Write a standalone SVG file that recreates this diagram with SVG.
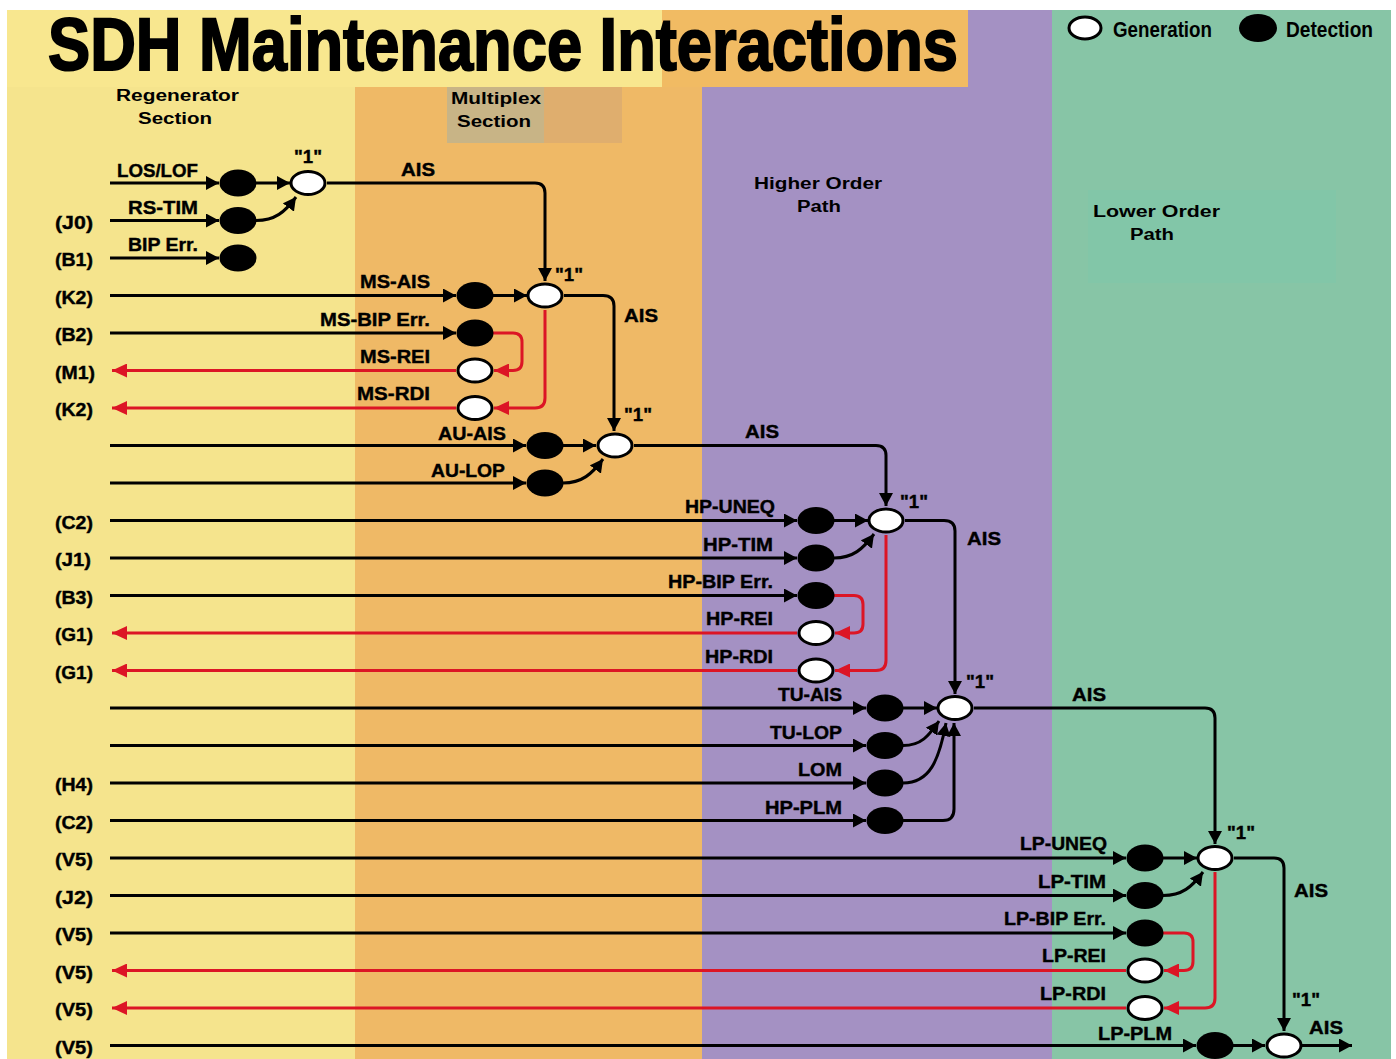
<svg xmlns="http://www.w3.org/2000/svg" width="1396" height="1059" viewBox="0 0 1396 1059">
<style>
.t{font-family:"Liberation Sans",Arial,sans-serif;font-weight:bold;fill:#000}
.l{font-size:19px;stroke:#000;stroke-width:0.4}
.s{font-size:16px}
.k{fill:none;stroke:#000;stroke-width:3}
.r{fill:none;stroke:#dc1525;stroke-width:3}
.det{fill:#000}
.gen{fill:#fff;stroke:#000;stroke-width:3}
</style>
<defs>
<marker id="ab" markerUnits="userSpaceOnUse" markerWidth="14" markerHeight="14" refX="13" refY="7" orient="auto"><path d="M0,0 L13,7 L0,14 z" fill="#000"/></marker>
<marker id="ar" markerUnits="userSpaceOnUse" markerWidth="16" markerHeight="14" refX="15" refY="7" orient="auto"><path d="M0,0 L15,7 L0,14 z" fill="#dc1525"/></marker>
</defs>
<g id="background">
<rect x="0" y="0" width="1396" height="1059" fill="#fff"/>
<rect x="7" y="10" width="348" height="1049" fill="#f5e48d"/>
<rect x="355" y="10" width="347" height="1049" fill="#efb966"/>
<rect x="702" y="10" width="350" height="1049" fill="#a491c3"/>
<rect x="1052" y="10" width="339" height="1049" fill="#87c5a6"/>
<rect x="7" y="10" width="655" height="77" fill="#f8e78f"/>
<rect x="662" y="10" width="306" height="77" fill="#f1bb63"/>
<rect x="447" y="87" width="97" height="56" fill="#c8b486"/>
<rect x="544" y="87" width="78" height="56" fill="#dfae6e"/>
<rect x="1088" y="190" width="248" height="93" fill="#82c6a8"/>
</g>
<g id="title"><text class="t" x="48" y="70" font-size="74" stroke="#000" stroke-width="2" textLength="910" lengthAdjust="spacingAndGlyphs">SDH Maintenance Interactions</text></g>
<g id="legend">
<ellipse class="gen" cx="1085" cy="28" rx="16" ry="11"/>
<text class="t" x="1113" y="37" font-size="22" textLength="99" lengthAdjust="spacingAndGlyphs">Generation</text>
<ellipse class="det" cx="1258" cy="28" rx="19" ry="14"/>
<text class="t" x="1286" y="37" font-size="22" textLength="87" lengthAdjust="spacingAndGlyphs">Detection</text>
</g>
<g id="sections">
<text class="t s" x="116" y="101" textLength="123" lengthAdjust="spacingAndGlyphs">Regenerator</text>
<text class="t s" x="138" y="124" textLength="74" lengthAdjust="spacingAndGlyphs">Section</text>
<text class="t s" x="451" y="104" textLength="90" lengthAdjust="spacingAndGlyphs">Multiplex</text>
<text class="t s" x="457" y="127" textLength="74" lengthAdjust="spacingAndGlyphs">Section</text>
<text class="t s" x="754" y="189" textLength="128" lengthAdjust="spacingAndGlyphs">Higher Order</text>
<text class="t s" x="797" y="212" textLength="44" lengthAdjust="spacingAndGlyphs">Path</text>
<text class="t s" x="1093" y="217" textLength="127" lengthAdjust="spacingAndGlyphs">Lower Order</text>
<text class="t s" x="1130" y="240" textLength="44" lengthAdjust="spacingAndGlyphs">Path</text>
</g>
<g id="overhead-labels" class="t l">
<text x="55" y="229" textLength="38" lengthAdjust="spacingAndGlyphs">(J0)</text>
<text x="55" y="266" textLength="38" lengthAdjust="spacingAndGlyphs">(B1)</text>
<text x="55" y="304" textLength="38" lengthAdjust="spacingAndGlyphs">(K2)</text>
<text x="55" y="341" textLength="38" lengthAdjust="spacingAndGlyphs">(B2)</text>
<text x="55" y="379" textLength="40" lengthAdjust="spacingAndGlyphs">(M1)</text>
<text x="55" y="416" textLength="38" lengthAdjust="spacingAndGlyphs">(K2)</text>
<text x="55" y="529" textLength="38" lengthAdjust="spacingAndGlyphs">(C2)</text>
<text x="55" y="566" textLength="36" lengthAdjust="spacingAndGlyphs">(J1)</text>
<text x="55" y="604" textLength="38" lengthAdjust="spacingAndGlyphs">(B3)</text>
<text x="55" y="641" textLength="38" lengthAdjust="spacingAndGlyphs">(G1)</text>
<text x="55" y="679" textLength="38" lengthAdjust="spacingAndGlyphs">(G1)</text>
<text x="55" y="791" textLength="38" lengthAdjust="spacingAndGlyphs">(H4)</text>
<text x="55" y="829" textLength="38" lengthAdjust="spacingAndGlyphs">(C2)</text>
<text x="55" y="866" textLength="38" lengthAdjust="spacingAndGlyphs">(V5)</text>
<text x="55" y="904" textLength="38" lengthAdjust="spacingAndGlyphs">(J2)</text>
<text x="55" y="941" textLength="38" lengthAdjust="spacingAndGlyphs">(V5)</text>
<text x="55" y="979" textLength="38" lengthAdjust="spacingAndGlyphs">(V5)</text>
<text x="55" y="1016" textLength="38" lengthAdjust="spacingAndGlyphs">(V5)</text>
<text x="55" y="1054" textLength="38" lengthAdjust="spacingAndGlyphs">(V5)</text>
</g>
<g id="connectors">
<path class="k" marker-end="url(#ab)" d="M110,183 H219"/>
<path class="k" marker-end="url(#ab)" d="M110,220.5 H219"/>
<path class="k" marker-end="url(#ab)" d="M110,258 H219"/>
<path class="k" marker-end="url(#ab)" d="M110,295.5 H456"/>
<path class="k" marker-end="url(#ab)" d="M110,333 H456"/>
<path class="k" marker-end="url(#ab)" d="M110,445.5 H526"/>
<path class="k" marker-end="url(#ab)" d="M110,483 H526"/>
<path class="k" marker-end="url(#ab)" d="M110,520.5 H797"/>
<path class="k" marker-end="url(#ab)" d="M110,558 H797"/>
<path class="k" marker-end="url(#ab)" d="M110,595.5 H797"/>
<path class="k" marker-end="url(#ab)" d="M110,708 H866"/>
<path class="k" marker-end="url(#ab)" d="M110,745.5 H866"/>
<path class="k" marker-end="url(#ab)" d="M110,783 H866"/>
<path class="k" marker-end="url(#ab)" d="M110,820.5 H866"/>
<path class="k" marker-end="url(#ab)" d="M110,858 H1126"/>
<path class="k" marker-end="url(#ab)" d="M110,895.5 H1126"/>
<path class="k" marker-end="url(#ab)" d="M110,933 H1126"/>
<path class="k" marker-end="url(#ab)" d="M110,1045.5 H1196"/>
<path class="k" marker-end="url(#ab)" d="M256,183 H290"/>
<path class="k" marker-end="url(#ab)" d="M256,220.5 C275,220.5 285,212 296,197"/>
<path class="k" marker-end="url(#ab)" d="M493,295.5 H527"/>
<path class="k" marker-end="url(#ab)" d="M563,445.5 H596"/>
<path class="k" marker-end="url(#ab)" d="M563,483 C582,483 592,474 603,459"/>
<path class="k" marker-end="url(#ab)" d="M834,520.5 H868"/>
<path class="k" marker-end="url(#ab)" d="M834,558 C853,558 863,549 874,534"/>
<path class="k" marker-end="url(#ab)" d="M903,708 H937"/>
<path class="k" marker-end="url(#ab)" d="M903,745.5 C922,745.5 929,735 939,721"/>
<path class="k" marker-end="url(#ab)" d="M903,783 C930,783 939,760 946,723"/>
<path class="k" marker-end="url(#ab)" d="M903,820.5 H943 Q954,820.5 954,809 V723"/>
<path class="k" marker-end="url(#ab)" d="M1163,858 H1197"/>
<path class="k" marker-end="url(#ab)" d="M1163,895.5 C1182,895.5 1192,887 1203,872"/>
<path class="k" marker-end="url(#ab)" d="M1233,1045.5 H1265"/>
<path class="k" marker-end="url(#ab)" d="M1302,1045.5 H1352"/>
<path class="k" marker-end="url(#ab)" d="M327,183 H535 Q545,183 545,193 V281"/>
<path class="k" marker-end="url(#ab)" d="M564,295.5 H603 Q614,295.5 614,306 V431"/>
<path class="k" marker-end="url(#ab)" d="M634,445.5 H876 Q886,445.5 886,455.5 V506"/>
<path class="k" marker-end="url(#ab)" d="M905,520.5 H944 Q955,520.5 955,531 V694"/>
<path class="k" marker-end="url(#ab)" d="M974,708 H1205 Q1215,708 1215,718 V844"/>
<path class="k" marker-end="url(#ab)" d="M1234,858 H1274 Q1284,858 1284,868 V1031"/>
<path class="r" marker-end="url(#ar)" d="M493,333 H513 Q522,333 522,342 V361.5 Q522,370.5 513,370.5 H494"/>
<path class="r" marker-end="url(#ar)" d="M545,310 V398 Q545,408 535,408 H494"/>
<path class="r" marker-end="url(#ar)" d="M456,370.5 H112"/>
<path class="r" marker-end="url(#ar)" d="M456,408 H112"/>
<path class="r" marker-end="url(#ar)" d="M834,595.5 H854 Q863,595.5 863,604.5 V624 Q863,633 854,633 H835"/>
<path class="r" marker-end="url(#ar)" d="M886,535 V660.5 Q886,670.5 876,670.5 H835"/>
<path class="r" marker-end="url(#ar)" d="M797,633 H112"/>
<path class="r" marker-end="url(#ar)" d="M797,670.5 H112"/>
<path class="r" marker-end="url(#ar)" d="M1163,933 H1184 Q1193,933 1193,942 V961.5 Q1193,970.5 1184,970.5 H1164"/>
<path class="r" marker-end="url(#ar)" d="M1215,872 V998 Q1215,1008 1205,1008 H1164"/>
<path class="r" marker-end="url(#ar)" d="M1126,970.5 H112"/>
<path class="r" marker-end="url(#ar)" d="M1126,1008 H112"/>
</g>
<g id="ais-labels" class="t l">
<text x="401" y="176" textLength="34" lengthAdjust="spacingAndGlyphs">AIS</text>
<text x="624" y="322" textLength="34" lengthAdjust="spacingAndGlyphs">AIS</text>
<text x="745" y="438" textLength="34" lengthAdjust="spacingAndGlyphs">AIS</text>
<text x="967" y="545" textLength="34" lengthAdjust="spacingAndGlyphs">AIS</text>
<text x="1072" y="701" textLength="34" lengthAdjust="spacingAndGlyphs">AIS</text>
<text x="1294" y="897" textLength="34" lengthAdjust="spacingAndGlyphs">AIS</text>
<text x="1309" y="1034" textLength="34" lengthAdjust="spacingAndGlyphs">AIS</text>
</g>
<g id="n-los-lof"><ellipse class="det" cx="238" cy="183" rx="18.5" ry="13.5"/><text class="t l" x="117" y="177" textLength="81" lengthAdjust="spacingAndGlyphs">LOS/LOF</text></g>
<g id="n-rs-tim"><ellipse class="det" cx="238" cy="220.5" rx="18.5" ry="13.5"/><text class="t l" x="128" y="214" textLength="70" lengthAdjust="spacingAndGlyphs">RS-TIM</text></g>
<g id="n-bip-err"><ellipse class="det" cx="238" cy="258" rx="18.5" ry="13.5"/><text class="t l" x="128" y="251" textLength="70" lengthAdjust="spacingAndGlyphs">BIP Err.</text></g>
<g id="g-rs"><ellipse class="gen" cx="308" cy="183" rx="17" ry="11.5"/><text class="t l" x="294" y="163" textLength="28" lengthAdjust="spacingAndGlyphs">"1"</text></g>
<g id="n-ms-ais"><ellipse class="det" cx="475" cy="295.5" rx="18.5" ry="13.5"/><text class="t l" x="360" y="288" textLength="70" lengthAdjust="spacingAndGlyphs">MS-AIS</text></g>
<g id="n-ms-bip"><ellipse class="det" cx="475" cy="333" rx="18.5" ry="13.5"/><text class="t l" x="320" y="326" textLength="110" lengthAdjust="spacingAndGlyphs">MS-BIP Err.</text></g>
<g id="n-ms-rei"><ellipse class="gen" cx="475" cy="370.5" rx="17" ry="11.5"/><text class="t l" x="360" y="363" textLength="70" lengthAdjust="spacingAndGlyphs">MS-REI</text></g>
<g id="n-ms-rdi"><ellipse class="gen" cx="475" cy="408" rx="17" ry="11.5"/><text class="t l" x="357" y="400" textLength="73" lengthAdjust="spacingAndGlyphs">MS-RDI</text></g>
<g id="g-ms"><ellipse class="gen" cx="545" cy="295.5" rx="17" ry="11.5"/><text class="t l" x="555" y="281" textLength="28" lengthAdjust="spacingAndGlyphs">"1"</text></g>
<g id="n-au-ais"><ellipse class="det" cx="545" cy="445.5" rx="18.5" ry="13.5"/><text class="t l" x="438" y="440" textLength="68" lengthAdjust="spacingAndGlyphs">AU-AIS</text></g>
<g id="n-au-lop"><ellipse class="det" cx="545" cy="483" rx="18.5" ry="13.5"/><text class="t l" x="431" y="477" textLength="74" lengthAdjust="spacingAndGlyphs">AU-LOP</text></g>
<g id="g-au"><ellipse class="gen" cx="615" cy="445.5" rx="17" ry="11.5"/><text class="t l" x="624" y="421" textLength="28" lengthAdjust="spacingAndGlyphs">"1"</text></g>
<g id="n-hp-uneq"><ellipse class="det" cx="816" cy="520.5" rx="18.5" ry="13.5"/><text class="t l" x="685" y="513" textLength="90" lengthAdjust="spacingAndGlyphs">HP-UNEQ</text></g>
<g id="n-hp-tim"><ellipse class="det" cx="816" cy="558" rx="18.5" ry="13.5"/><text class="t l" x="703" y="551" textLength="70" lengthAdjust="spacingAndGlyphs">HP-TIM</text></g>
<g id="n-hp-bip"><ellipse class="det" cx="816" cy="595.5" rx="18.5" ry="13.5"/><text class="t l" x="668" y="588" textLength="105" lengthAdjust="spacingAndGlyphs">HP-BIP Err.</text></g>
<g id="n-hp-rei"><ellipse class="gen" cx="816" cy="633" rx="17" ry="11.5"/><text class="t l" x="706" y="625" textLength="67" lengthAdjust="spacingAndGlyphs">HP-REI</text></g>
<g id="n-hp-rdi"><ellipse class="gen" cx="816" cy="670.5" rx="17" ry="11.5"/><text class="t l" x="705" y="663" textLength="68" lengthAdjust="spacingAndGlyphs">HP-RDI</text></g>
<g id="g-hp"><ellipse class="gen" cx="886" cy="520.5" rx="17" ry="11.5"/><text class="t l" x="900" y="508" textLength="28" lengthAdjust="spacingAndGlyphs">"1"</text></g>
<g id="n-tu-ais"><ellipse class="det" cx="885" cy="708" rx="18.5" ry="13.5"/><text class="t l" x="778" y="701" textLength="64" lengthAdjust="spacingAndGlyphs">TU-AIS</text></g>
<g id="n-tu-lop"><ellipse class="det" cx="885" cy="745.5" rx="18.5" ry="13.5"/><text class="t l" x="770" y="739" textLength="72" lengthAdjust="spacingAndGlyphs">TU-LOP</text></g>
<g id="n-lom"><ellipse class="det" cx="885" cy="783" rx="18.5" ry="13.5"/><text class="t l" x="798" y="776" textLength="44" lengthAdjust="spacingAndGlyphs">LOM</text></g>
<g id="n-hp-plm"><ellipse class="det" cx="885" cy="820.5" rx="18.5" ry="13.5"/><text class="t l" x="765" y="814" textLength="77" lengthAdjust="spacingAndGlyphs">HP-PLM</text></g>
<g id="g-tu"><ellipse class="gen" cx="955" cy="708" rx="17" ry="11.5"/><text class="t l" x="966" y="688" textLength="28" lengthAdjust="spacingAndGlyphs">"1"</text></g>
<g id="n-lp-uneq"><ellipse class="det" cx="1145" cy="858" rx="18.5" ry="13.5"/><text class="t l" x="1020" y="850" textLength="87" lengthAdjust="spacingAndGlyphs">LP-UNEQ</text></g>
<g id="n-lp-tim"><ellipse class="det" cx="1145" cy="895.5" rx="18.5" ry="13.5"/><text class="t l" x="1038" y="888" textLength="68" lengthAdjust="spacingAndGlyphs">LP-TIM</text></g>
<g id="n-lp-bip"><ellipse class="det" cx="1145" cy="933" rx="18.5" ry="13.5"/><text class="t l" x="1004" y="925" textLength="102" lengthAdjust="spacingAndGlyphs">LP-BIP Err.</text></g>
<g id="n-lp-rei"><ellipse class="gen" cx="1145" cy="970.5" rx="17" ry="11.5"/><text class="t l" x="1042" y="962" textLength="64" lengthAdjust="spacingAndGlyphs">LP-REI</text></g>
<g id="n-lp-rdi"><ellipse class="gen" cx="1145" cy="1008" rx="17" ry="11.5"/><text class="t l" x="1040" y="1000" textLength="66" lengthAdjust="spacingAndGlyphs">LP-RDI</text></g>
<g id="g-lp"><ellipse class="gen" cx="1215" cy="858" rx="17" ry="11.5"/><text class="t l" x="1227" y="839" textLength="28" lengthAdjust="spacingAndGlyphs">"1"</text></g>
<g id="n-lp-plm"><ellipse class="det" cx="1215" cy="1045.5" rx="18.5" ry="13.5"/><text class="t l" x="1098" y="1040" textLength="74" lengthAdjust="spacingAndGlyphs">LP-PLM</text></g>
<g id="g-lp-plm"><ellipse class="gen" cx="1284" cy="1045.5" rx="17" ry="11.5"/><text class="t l" x="1292" y="1006" textLength="28" lengthAdjust="spacingAndGlyphs">"1"</text></g>
</svg>
